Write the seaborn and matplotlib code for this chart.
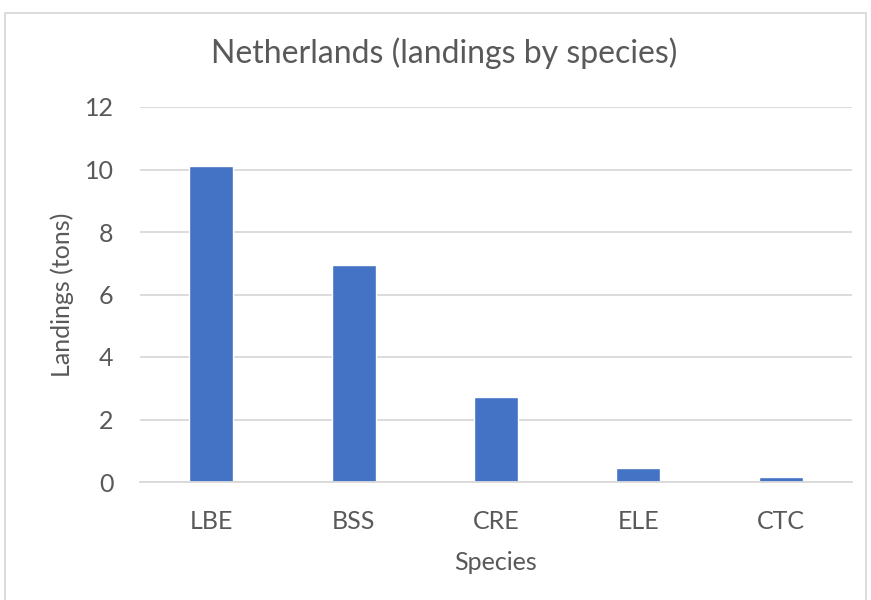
import matplotlib
matplotlib.use("Agg")
import matplotlib.pyplot as plt
import seaborn as sns
import pandas as pd
from matplotlib.patches import Rectangle

species = ["LBE", "BSS", "CRE", "ELE", "CTC"]
landings = [10.12, 6.95, 2.72, 0.45, 0.15]

df = pd.DataFrame({"Species": species, "Landings": landings})

sns.set_theme(style="white")
plt.rcParams['font.family'] = ['Lato', 'DejaVu Sans']
text_col = "#595959"

fig = plt.figure(figsize=(8.71, 6), dpi=100)
ax = fig.add_axes([140 / 871, 1 - 482 / 600, 712 / 871, 375 / 600])

sns.barplot(data=df, x="Species", y="Landings", color="#4472C4",
            saturation=1, width=0.31, ax=ax)

ax.set_ylim(0, 12)
ax.set_yticks(range(0, 13, 2))
ax.yaxis.grid(True, color="#d9d9d9", linewidth=1.3)
ax.set_axisbelow(True)
for s in ["top", "right", "left"]:
    ax.spines[s].set_visible(False)
ax.spines["bottom"].set_color("#d9d9d9")
ax.spines["bottom"].set_linewidth(1.3)
ax.tick_params(axis="both", length=0, labelsize=18, colors=text_col)
ax.tick_params(axis="y", pad=19)
ax.tick_params(axis="x", pad=20)

ax.set_xlabel("Species", fontsize=18, color=text_col, va="center", ha="center")
ax.set_ylabel("Landings (tons)", fontsize=18, color=text_col, va="center", ha="center")
ax.xaxis.set_label_coords(0.5, -80 / 375)
ax.yaxis.set_label_coords(-78 / 712, 0.5)
fig.text(444 / 871, 1 - 53 / 600, "Netherlands (landings by species)",
         ha="center", va="center", fontsize=23, color=text_col)

# chart area border
fig.patches.append(Rectangle((5 / 871, -0.01), 861 / 871, 1 - 12.5 / 600 + 0.01,
                             transform=fig.transFigure, fill=False,
                             edgecolor="#d9d9d9", linewidth=1.3))

fig.savefig("out.png", dpi=100)
